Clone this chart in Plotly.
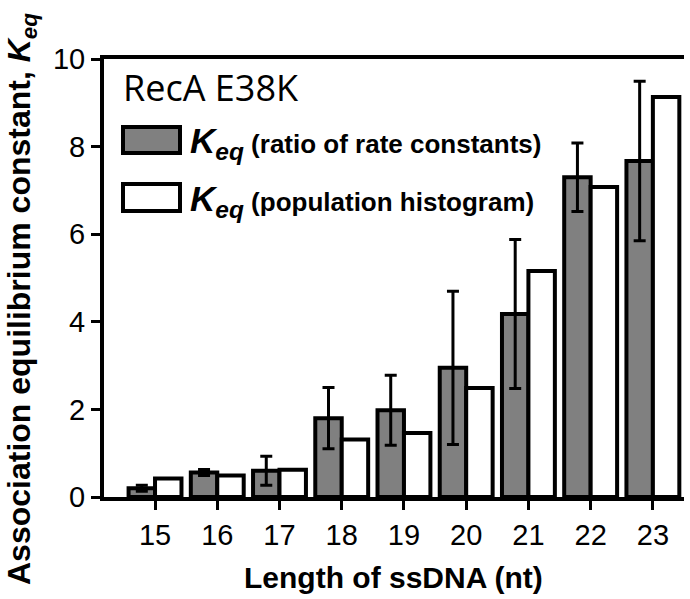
import plotly.graph_objects as go

categories = ["15", "16", "17", "18", "19", "20", "21", "22", "23"]
keq_rate = [0.2, 0.56, 0.6, 1.8, 1.98, 2.95, 4.18, 7.3, 7.67]
keq_rate_err = [0.07, 0.07, 0.33, 0.7, 0.8, 1.75, 1.7, 0.78, 1.82]
keq_hist = [0.42, 0.49, 0.62, 1.31, 1.46, 2.49, 5.16, 7.08, 9.13]
y_ticks = [0, 2, 4, 6, 8, 10]

W, H = 690, 599
L, R, T, B = 104, 6, 59, 102
PW = W - L - R
PH = H - T - B

def px(x):
    return (x - L) / PW

def py(y):
    return (H - B - y) / PH

FONT = "Arial, Liberation Sans, sans-serif"

fig = go.Figure()
fig.add_trace(go.Bar(
    x=categories, y=keq_rate, name="rate",
    marker=dict(color="#808080", line=dict(color="black", width=4)),
    error_y=dict(type="data", array=keq_rate_err, visible=True,
                 color="black", thickness=3, width=6),
    showlegend=False,
))
fig.add_trace(go.Bar(
    x=categories, y=keq_hist, name="hist",
    marker=dict(color="white", line=dict(color="black", width=4)),
    showlegend=False,
))

shapes = [
    dict(type="rect", xref="paper", yref="paper",
         x0=px(123), x1=px(180), y0=py(153), y1=py(127),
         fillcolor="#808080", line=dict(color="black", width=4)),
    dict(type="rect", xref="paper", yref="paper",
         x0=px(123), x1=px(180), y0=py(211), y1=py(184),
         fillcolor="white", line=dict(color="black", width=4)),
]

annotations = [
    dict(text="RecA E38K", xref="paper", yref="paper",
         x=px(121), y=py(88), xanchor="left", yanchor="middle",
         showarrow=False, font=dict(family="Open Sans", size=36, color="black")),
    dict(text="<b><i>K</i></b><sub><b><i>eq</i></b></sub><b><span style='font-size:26px'> (ratio of rate constants)</span></b>",
         xref="paper", yref="paper", x=px(188), y=py(143),
         xanchor="left", yanchor="middle", showarrow=False,
         font=dict(family=FONT, size=35, color="black")),
    dict(text="<b><i>K</i></b><sub><b><i>eq</i></b></sub><b><span style='font-size:26px'> (population histogram)</span></b>",
         xref="paper", yref="paper", x=px(188), y=py(201),
         xanchor="left", yanchor="middle", showarrow=False,
         font=dict(family=FONT, size=35, color="black")),
    dict(text="<b>Length of ssDNA (nt)</b>", xref="paper", yref="paper",
         x=px(393), y=py(577), xanchor="center", yanchor="middle",
         showarrow=False, font=dict(family=FONT, size=30, color="black")),
    dict(text="<b>Association equilibrium constant, <i>K</i><sub><i>eq</i></sub></b>",
         xref="paper", yref="paper", x=px(21), y=py(299),
         xanchor="center", yanchor="middle", textangle=-90,
         showarrow=False, font=dict(family=FONT, size=32, color="black")),
]

fig.update_layout(
    width=W, height=H,
    margin=dict(l=L, r=R, t=T, b=B, pad=0),
    paper_bgcolor="white", plot_bgcolor="white",
    barmode="group", bargap=0.15, bargroupgap=0.0,
    shapes=shapes, annotations=annotations,
    font=dict(family=FONT, color="black"),
)
fig.update_xaxes(
    type="category", range=[-0.82, 8.5],
    showline=True, linecolor="black", linewidth=4, mirror=True,
    ticks="outside", ticklen=9, tickwidth=3, tickcolor="black",
    tickfont=dict(family=FONT, size=29, color="black"),
    showgrid=False, zeroline=False,
)
fig.update_yaxes(
    range=[0, 10], tickvals=y_ticks,
    showline=True, linecolor="black", linewidth=4,
    ticks="outside", ticklen=9, tickwidth=3, tickcolor="black",
    tickfont=dict(family=FONT, size=29, color="black"),
    showgrid=False, zeroline=False,
)

fig.write_html("out.html")
